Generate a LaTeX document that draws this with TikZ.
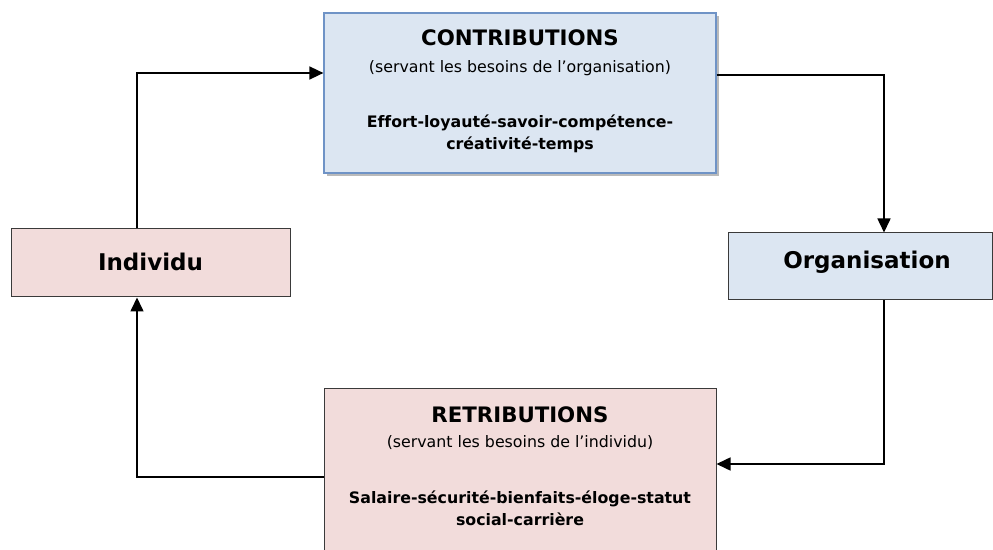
\documentclass[tikz,border=0pt]{standalone}
\usepackage{fontspec}
\setmainfont{DejaVu Sans}[Ligatures=NoCommon]
\usetikzlibrary{shadows,arrows.meta}
\definecolor{blueFill}{HTML}{DCE6F2}
\definecolor{pinkFill}{HTML}{F2DCDB}
\definecolor{blueBorder}{HTML}{6F93C6}
\definecolor{darkBorder}{HTML}{3A3A3A}
\begin{document}
\begin{tikzpicture}[x=1pt,y=1pt,
  bluebox/.style={draw=blueBorder,line width=1.2pt,fill=blueFill,inner sep=0pt},
  pinkbox/.style={draw=darkBorder,line width=1pt,fill=pinkFill,inner sep=0pt},
  orgbox/.style={draw=darkBorder,line width=1pt,fill=blueFill,inner sep=0pt},
  conn/.style={line width=1.6pt,-{Triangle[length=14pt,width=13pt]}},
  txt/.style={inner sep=0pt,align=center},
  titlefont/.style={font=\bfseries\fontsize{21.3}{25}\selectfont},
  namefont/.style={font=\bfseries\fontsize{23}{27}\selectfont},
  subfont/.style={font=\fontsize{15.8}{19}\selectfont},
  bodyfont/.style={font=\bfseries\fontsize{15.8}{22}\selectfont}]
\clip (0,0) rectangle (993,549);
\fill[white] (0,0) rectangle (993,549);
% boxes
\node[bluebox,minimum width=392pt,minimum height=160pt,
  drop shadow={opacity=0.45,shadow xshift=2.5pt,shadow yshift=-3.5pt,fill=black!60}] (contrib) at (520,456) {};
\node[pinkbox,minimum width=279pt,minimum height=68pt] (indiv) at (150.5,286) {};
\node[orgbox,minimum width=264pt,minimum height=67pt] (org) at (860,282.5) {};
\node[pinkbox,minimum width=392pt,minimum height=171pt] (retrib) at (520,74.5) {};
% texts
\node[txt,titlefont] (t1) at (520,511) {CONTRIBUTIONS};
\node[txt,subfont] (t2) at (520,481) {(servant les besoins de l’organisation)};
\node[txt,bodyfont] (t3) at (520,415) {Effort-loyauté-savoir-compétence-\\créativité-temps};
\node[txt,namefont] (t4) at (150.5,287) {Individu};
\node[txt,namefont] (t5) at (867,287) {Organisation};
\node[txt,titlefont] (t6) at (520,134) {RETRIBUTIONS};
\node[txt,subfont] (t7) at (520,106) {(servant les besoins de l’individu)};
\node[txt,bodyfont] (t8) at (520,41) {Salaire-sécurité-bienfaits-éloge-statut\\social-carrière};
% connectors
\coordinate (c1) at (137,476);
\coordinate (c2) at (884,474);
\coordinate (c3) at (884,85);
\coordinate (c4) at (137,72);
\draw[conn] (indiv.north -| c1) |- (contrib.west |- c1);
\draw[conn] (contrib.east |- c2) -| (org.north -| c2);
\draw[conn] (org.south -| c3) |- (retrib.east |- c3);
\draw[conn] (retrib.west |- c4) -| (indiv.south -| c4);
\end{tikzpicture}
\end{document}
